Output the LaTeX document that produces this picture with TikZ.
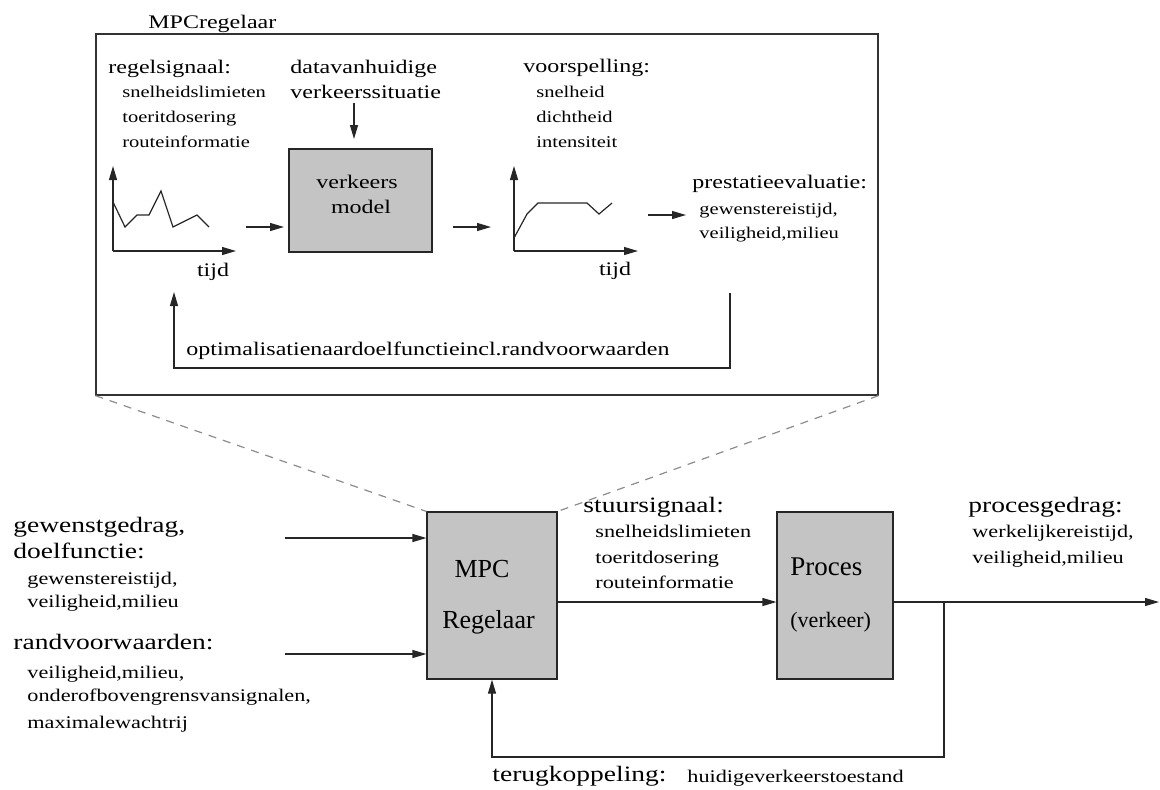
\documentclass[tikz,border=0pt]{standalone}
\usepackage{fontspec}
\setmainfont{Liberation Serif}
\newfontfamily\breed{Liberation Serif}[FakeStretch=1.25]
\usepackage{tikz}
\usetikzlibrary{arrows.meta,positioning}

\tikzset{
  pijl/.style={-{Triangle[length=7pt,width=4pt]},line width=0.6pt,draw=black!85},
  lijn/.style={line width=0.6pt,draw=black!85},
  blok/.style={shape=rectangle,draw=black!85,fill=black!23,line width=0.6pt,inner sep=0pt},
  zoomlijn/.style={dash pattern=on 4pt off 3.5pt,draw=black!45,line width=0.6pt},
  groot/.style={anchor=base west,inner sep=0pt,font=\breed\fontsize{11}{13}\selectfont},
  klein/.style={anchor=base west,inner sep=0pt,font=\breed\fontsize{8.9}{11}\selectfont},
  bgroot/.style={anchor=base west,inner sep=0pt,font=\breed\fontsize{9.6}{12}\selectfont},
  bklein/.style={anchor=base west,inner sep=0pt,font=\breed\fontsize{8.2}{10}\selectfont}
}

\begin{document}
\begin{tikzpicture}[x=0.5pt,y=-0.5pt]
\useasboundingbox (0,0) rectangle (1160,789);

% Zoomed MPC controller
\node [shape=rectangle,draw=black!80,line width=0.6pt,inner sep=0pt,minimum width=391pt,minimum height=180.5pt] at (487,214.5) (kader) {};
\node [bgroot] at (148,28) (titel) {MPCregelaar};

% control signal and its plot
\node [bgroot] at (108,73) (regel) {regelsignaal:};
\node [bklein] at (122,97) (regel1) {snelheidslimieten};
\node [bklein] at (122,122) (regel2) {toeritdosering};
\node [bklein] at (122,147) (regel3) {routeinformatie};
\coordinate (o1) at (113,251);
\coordinate (o1y) at (113,166);
\coordinate (o1x) at (236,251);
\draw [pijl] (o1) -- (o1y);
\draw [pijl] (o1) -- (o1x);
\draw [lijn] (113,202) -- (125,227) -- (137,215) -- (149,215) -- (161,191) -- (173,227) -- (197,215) -- (209,227);
\node [bgroot,anchor=base] at (213,276) (tijd1) {tijd};

% traffic model
\node [bgroot] at (290,73) (data1) {datavanhuidige};
\node [bgroot] at (290,98) (data2) {verkeerssituatie};
\node [blok,minimum width=71.5pt,minimum height=51.5pt] at (360.5,200.5) (model) {};
\node [bgroot,anchor=base] at (357,188) (model1) {verkeers};
\node [bgroot,anchor=base] at (361,213) (model2) {model};
\coordinate (d1) at (354,103);
\coordinate (d2) at (354,139);
\draw [pijl] (d1) -- (d2);
\coordinate (p1) at (246,227);
\coordinate (p2) at (284,227);
\draw [pijl] (p1) -- (p2);
\coordinate (p3) at (453,227);
\coordinate (p4) at (491,227);
\draw [pijl] (p3) -- (p4);

% prediction and its plot
\node [bgroot] at (523,72) (voor) {voorspelling:};
\node [bklein] at (536,97) (voor1) {snelheid};
\node [bklein] at (536,122) (voor2) {dichtheid};
\node [bklein] at (536,147) (voor3) {intensiteit};
\coordinate (o2) at (514,251);
\coordinate (o2y) at (514,166);
\coordinate (o2x) at (638,251);
\draw [pijl] (o2) -- (o2y);
\draw [pijl] (o2) -- (o2x);
\draw [lijn] (514,238) -- (527,214) -- (538,203) -- (587,203) -- (599,214) -- (612,203);
\node [bgroot,anchor=base] at (615,275) (tijd2) {tijd};

% evaluation
\coordinate (p5) at (648,215);
\coordinate (p6) at (686,215);
\draw [pijl] (p5) -- (p6);
\node [bgroot] at (692,188) (prest) {prestatieevaluatie:};
\node [bklein] at (699,214) (prest1) {gewenstereistijd,};
\node [bklein] at (699,238) (prest2) {veiligheid,milieu};

% optimisation loop
\coordinate (lus1) at (730,293);
\coordinate (lus2) at (730,368);
\coordinate (lus3) at (174,368);
\coordinate (lus4) at (174,292);
\draw [pijl] (lus1) -- (lus2) -- (lus3) -- (lus4);
\node [bgroot] at (186,355) (optim) {optimalisatienaardoelfunctieincl.randvoorwaarden};

% Main loop
\node [blok,minimum width=65pt,minimum height=83.5pt] at (492,595.5) (mpc) {};
\node [anchor=base,inner sep=0pt,font=\fontsize{13}{15}\selectfont] at (482,577) (mpc1) {MPC};
\node [anchor=base,inner sep=0pt,font=\fontsize{13}{15}\selectfont] at (488.5,628) (mpc2) {Regelaar};
\node [blok,minimum width=58pt,minimum height=83.5pt] at (835,595.5) (proces) {};
\node [anchor=base west,inner sep=0pt,font=\fontsize{13.5}{15}\selectfont] at (790,575) (proces1) {Proces};
\node [anchor=base west,inner sep=0pt,font=\fontsize{11}{13}\selectfont] at (790,627) (proces2) {(verkeer)};

\draw [zoomlijn] (kader.south west) -- (mpc.north west);
\draw [zoomlijn] (kader.south east) -- (mpc.north east);

% inputs
\node [groot] at (13,532) (gew) {gewenstgedrag,};
\node [groot] at (13,558) (doel) {doelfunctie:};
\node [klein] at (27,584) (doel1) {gewenstereistijd,};
\node [klein] at (27,607) (doel2) {veiligheid,milieu};
\node [groot] at (13,649) (rand) {randvoorwaarden:};
\node [klein] at (27,678) (rand1) {veiligheid,milieu,};
\node [klein] at (27,701) (rand2) {onderofbovengrensvansignalen,};
\node [klein] at (27,728) (rand3) {maximalewachtrij};
\coordinate (in1) at (285,538);
\coordinate (in2) at (285,654);
\draw [pijl] (in1) -- (mpc.west |- in1);
\draw [pijl] (in2) -- (mpc.west |- in2);

% control signal
\node [groot] at (583,512) (stuur) {stuursignaal:};
\node [klein] at (595,537) (stuur1) {snelheidslimieten};
\node [klein] at (595,563) (stuur2) {toeritdosering};
\node [klein] at (595,588) (stuur3) {routeinformatie};
\coordinate (uit) at (1159,602);
\draw [pijl] (mpc.east |- uit) -- (proces.west |- uit);

% output
\node [groot] at (968,512) (gedrag) {procesgedrag:};
\node [klein] at (972,537) (gedrag1) {werkelijkereistijd,};
\node [klein] at (972,563) (gedrag2) {veiligheid,milieu};
\draw [pijl] (proces.east |- uit) -- (uit);

% feedback
\coordinate (tak) at (944,602);
\coordinate (terug) at (944,757);
\draw [pijl] (tak) -- (terug) -| (mpc.south);
\node [groot] at (492,781) (terugk) {terugkoppeling:};
\node [klein] at (687,782) (toestand) {huidigeverkeerstoestand};

\end{tikzpicture}
\end{document}
